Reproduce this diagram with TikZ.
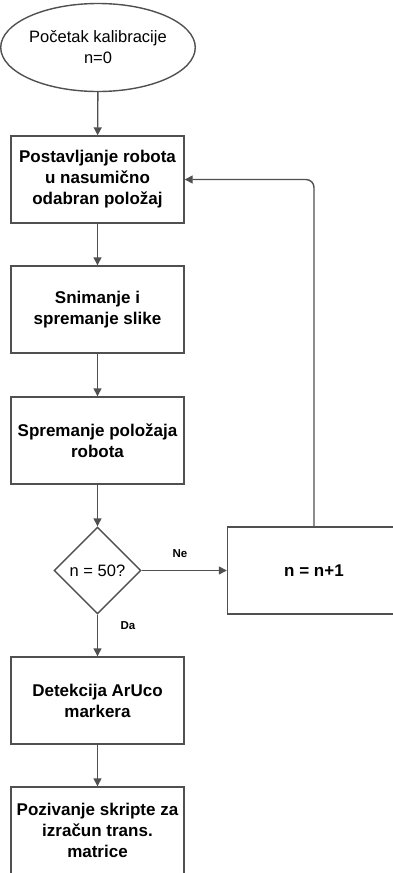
\documentclass[tikz,border=0pt]{standalone}
\usepackage{fontspec}
\setmainfont{Liberation Sans}
\usetikzlibrary{shapes.geometric,arrows.meta}
\definecolor{edge}{HTML}{505050}
\tikzset{
  stepbox/.style={draw=edge, line width=1.4pt, minimum width=173pt, minimum height=87pt,
    align=center, font=\fontsize{17}{21}\selectfont\bfseries, inner sep=0pt},
  flow/.style={draw=edge, line width=1.4pt, -{Triangle[length=8pt,width=8pt]}},
  choice/.style={font=\fontsize{11.5}{13}\selectfont\bfseries}
}
\begin{document}
\begin{tikzpicture}[x=1pt, y=-1pt]
    \useasboundingbox (0,0) rectangle (392,873);
    \node (start) at (98, 47.5) [draw=edge, line width=1.4pt, ellipse, minimum width=175pt, minimum height=88pt,
      align=center, inner sep=0pt, font=\fontsize{16.5}{21}\selectfont] {Početak kalibracije\\n=0};
    \node (pose)   at (97.5, 179.5) [stepbox] {Postavljanje robota\\u nasumično\\odabran položaj};
    \node (image)  at (97.5, 309.5) [stepbox] {Snimanje i\\spremanje slike};
    \node (save)   at (97.5, 440.5) [stepbox] {Spremanje položaja\\robota};
    \node (check)  at (97.5, 570.5) [draw=edge, line width=1.4pt, diamond, minimum width=87pt, minimum height=87pt,
      inner sep=0pt, font=\fontsize{16.5}{21}\selectfont] {n = 50?};
    \node (count)  at (314, 570.5)  [stepbox] {n = n+1};
    \node (aruco)  at (97.5, 700.5) [stepbox] {Detekcija ArUco\\markera};
    \node (matrix) at (97.5, 830.5) [stepbox] {Pozivanje skripte za\\izračun trans.\\matrice};

    \draw [flow] (start) -- (pose);
    \draw [flow] (pose) -- (image);
    \draw [flow] (image) -- (save);
    \draw [flow] (save) -- (check);
    \draw [flow] (check) -- (count) node [choice, pos=0.45, above=9pt] {Ne};
    \draw [flow] (check) -- (aruco) node [choice, pos=0.27, right=19pt] {Da};
    \draw [flow] (aruco) -- (matrix);
    \draw [flow, rounded corners=8pt] (count.north) |- (pose.east);
  \end{tikzpicture}
\end{document}
